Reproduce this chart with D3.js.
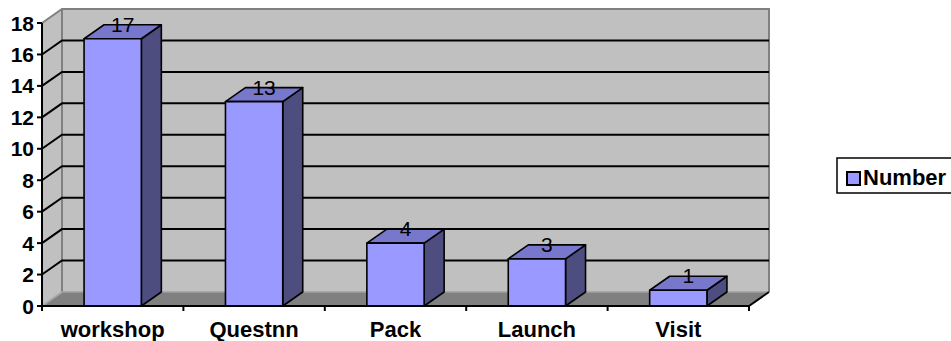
<!DOCTYPE html>
<html>
<head>
<meta charset="utf-8">
<script src="https://cdn.jsdelivr.net/npm/d3@7/dist/d3.min.js"></script>
<style>
  html, body { margin: 0; padding: 0; background: #ffffff; }
  svg { display: block; }
  text { font-family: "Liberation Sans", Arial, sans-serif; fill: #000; }
</style>
</head>
<body>
<svg id="chart" width="951" height="341"></svg>
<script>
// Chart data
const categories = ["workshop", "Questnn", "Pack", "Launch", "Visit"];
const seriesName = "Number";
const values = [17, 13, 4, 3, 1];
const yTicks = [0, 2, 4, 6, 8, 10, 12, 14, 16, 18];

const svg = d3.select("#chart");

// Front plane of the 3D box and the depth offset to the back wall
const frontLeft = 42, frontRight = 749;
const depthX = 20, depthY = -14;

const y = d3.scaleLinear().domain([0, 18]).range([306, 23]);
const x = d3.scaleBand().domain(categories).range([frontLeft, frontRight]).padding(0);
const barW = x.bandwidth() * 0.405;

const y0 = y(0), yTop = y(18);

// Left side wall
svg.append("polygon")
  .attr("points", [[frontLeft, y0], [frontLeft + depthX, y0 + depthY], [frontLeft + depthX, yTop + depthY], [frontLeft, yTop]].join(" "))
  .attr("fill", "#c0c0c0");

// Back wall
svg.append("rect")
  .attr("x", frontLeft + depthX).attr("y", yTop + depthY)
  .attr("width", frontRight - frontLeft).attr("height", y0 - yTop)
  .attr("fill", "#c0c0c0");

// Wall edges
const wallEdge = d3.path();
wallEdge.moveTo(frontLeft, yTop);
wallEdge.lineTo(frontLeft + depthX, yTop + depthY);
wallEdge.lineTo(frontRight + depthX, yTop + depthY);
wallEdge.lineTo(frontRight + depthX, y0 + depthY);
wallEdge.moveTo(frontLeft + depthX, yTop + depthY);
wallEdge.lineTo(frontLeft + depthX, y0 + depthY);
svg.append("path").attr("d", wallEdge.toString())
  .attr("fill", "none").attr("stroke", "#808080").attr("stroke-width", 2);

// Gridlines on side wall and back wall
const grid = svg.append("g").attr("stroke", "#000").attr("stroke-width", 2).attr("fill", "none");
yTicks.filter(t => t > 0 && t < 18).forEach(t => {
  grid.append("path").attr("d",
    `M${frontLeft},${y(t)} L${frontLeft + depthX},${y(t) + depthY} L${frontRight + depthX},${y(t) + depthY}`);
});

// Floor
svg.append("polygon")
  .attr("points", [[frontLeft, y0], [frontLeft + depthX, y0 + depthY], [frontRight + depthX, y0 + depthY], [frontRight, y0]].join(" "))
  .attr("fill", "#808080");
svg.append("line")
  .attr("x1", frontLeft + depthX).attr("x2", frontRight + depthX)
  .attr("y1", y0 + depthY).attr("y2", y0 + depthY)
  .attr("stroke", "#a0a0a0").attr("stroke-width", 1.5);
svg.append("line")
  .attr("x1", frontLeft).attr("x2", frontLeft + depthX)
  .attr("y1", y0).attr("y2", y0 + depthY)
  .attr("stroke", "#a8a8a8").attr("stroke-width", 2);
svg.append("line")
  .attr("x1", frontRight).attr("x2", frontRight + depthX)
  .attr("y1", y0).attr("y2", y0 + depthY)
  .attr("stroke", "#000").attr("stroke-width", 2);

// Bars (front, top, side faces)
const bars = svg.append("g").attr("stroke", "#000").attr("stroke-width", 1.6).attr("stroke-linejoin", "round");
categories.forEach((c, i) => {
  const x0 = x(c) + (x.bandwidth() - barW) / 2;
  const x1 = x0 + barW;
  const yv = y(values[i]);
  bars.append("polygon")
    .attr("points", [[x1, yv], [x1 + depthX, yv + depthY], [x1 + depthX, y0 + depthY], [x1, y0]].join(" "))
    .attr("fill", "#4d4d80");
  bars.append("polygon")
    .attr("points", [[x0, yv], [x0 + depthX, yv + depthY], [x1 + depthX, yv + depthY], [x1, yv]].join(" "))
    .attr("fill", "#7777cc");
  bars.append("rect")
    .attr("x", x0).attr("y", yv).attr("width", barW).attr("height", y0 - yv)
    .attr("fill", "#9999ff");
});

// Value labels
svg.append("g").selectAll("text").data(categories).join("text")
  .attr("x", c => x(c) + x.bandwidth() / 2 + 10)
  .attr("y", (c, i) => y(values[i]) - 7)
  .attr("text-anchor", "middle")
  .attr("font-size", 21)
  .text((c, i) => values[i]);

// Value axis
const yAxis = svg.append("g");
yAxis.append("line")
  .attr("x1", frontLeft).attr("x2", frontLeft)
  .attr("y1", yTop).attr("y2", y0 + 5)
  .attr("stroke", "#000").attr("stroke-width", 2);
yTicks.forEach(t => {
  yAxis.append("line")
    .attr("x1", frontLeft - 5).attr("x2", frontLeft)
    .attr("y1", y(t)).attr("y2", y(t))
    .attr("stroke", "#000").attr("stroke-width", 2);
  yAxis.append("text")
    .attr("x", frontLeft - 8).attr("y", y(t))
    .attr("dy", "0.36em")
    .attr("text-anchor", "end")
    .attr("font-size", 21).attr("font-weight", "bold")
    .text(t);
});

// Category axis
const xAxis = svg.append("g");
xAxis.append("line")
  .attr("x1", frontLeft).attr("x2", frontRight)
  .attr("y1", y0).attr("y2", y0)
  .attr("stroke", "#000").attr("stroke-width", 2);
d3.range(categories.length + 1).forEach(i => {
  const tx = frontLeft + i * x.step();
  xAxis.append("line")
    .attr("x1", tx).attr("x2", tx)
    .attr("y1", y0).attr("y2", y0 + 5)
    .attr("stroke", "#000").attr("stroke-width", 2);
});
xAxis.selectAll("text").data(categories).join("text")
  .attr("x", c => x(c) + x.bandwidth() / 2)
  .attr("y", 337)
  .attr("text-anchor", "middle")
  .attr("font-size", 22).attr("font-weight", "bold")
  .text(c => c);

// Legend
const legend = svg.append("g");
legend.append("rect")
  .attr("x", 837).attr("y", 158).attr("width", 130).attr("height", 35)
  .attr("fill", "#fff").attr("stroke", "#000").attr("stroke-width", 1.5);
legend.append("rect")
  .attr("x", 847).attr("y", 172).attr("width", 13).attr("height", 13)
  .attr("fill", "#9999ff").attr("stroke", "#000").attr("stroke-width", 2);
legend.append("text")
  .attr("x", 863).attr("y", 185)
  .attr("font-size", 22).attr("font-weight", "bold")
  .text(seriesName);
</script>
</body>
</html>
